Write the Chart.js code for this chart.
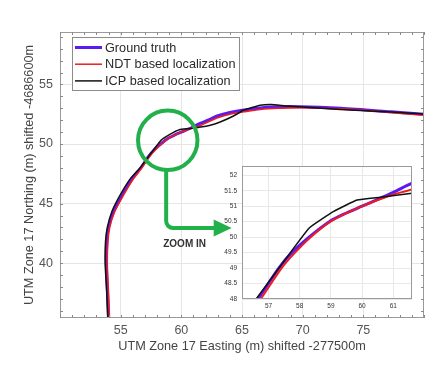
<!DOCTYPE html>
<html>
<head>
<meta charset="utf-8">
<script src="https://cdn.jsdelivr.net/npm/chart.js@4.4.1/dist/chart.umd.min.js"></script>
<style>
  html, body { margin: 0; padding: 0; background: #fff; }
  #wrap { position: relative; width: 445px; height: 365px; }
  #main { position: absolute; left: 0; top: 0; }
  #inset { position: absolute; left: 200px; top: 155px; }
</style>
</head>
<body>
<div id="wrap">
  <canvas id="main" width="445" height="365"></canvas>
  <canvas id="inset" width="220" height="160"></canvas>
</div>
<script>
// trajectories, metres (easting / northing after the shift)
const gtEast  = [54.02, 53.92, 53.82, 53.86, 54.0, 54.4, 55.1, 55.9, 56.66, 57.33, 57.75, 58.3, 58.95, 59.5, 60.0, 60.5, 61.0, 61.6, 62.2, 62.95, 64.0, 65.15, 67.36, 69.83, 73.14, 77.27, 80.5];
const gtNorth = [35.0, 37.5, 40.0, 41.8, 43.0, 44.3, 45.65, 47.05, 48.0, 49.0, 49.5, 50.0, 50.5, 50.78, 51.0, 51.22, 51.45, 51.75, 52.0, 52.35, 52.65, 52.85, 53.1, 53.13, 53.0, 52.7, 52.45];

const ndtEast  = [54.1, 54.0, 53.9, 53.95, 54.1, 54.5, 55.2, 56.0, 56.75, 57.42, 57.85, 58.35, 58.98, 59.5, 60.0, 60.5, 61.0, 61.6, 62.2, 63.0, 64.0, 65.15, 66.5, 68.0, 70.0, 73.14, 77.27, 80.5];
const ndtNorth = [35.0, 37.5, 40.0, 41.8, 43.0, 44.3, 45.65, 47.0, 48.0, 49.0, 49.5, 50.0, 50.5, 50.78, 51.0, 51.2, 51.38, 51.55, 51.85, 52.2, 52.5, 52.7, 52.9, 53.0, 53.05, 52.95, 52.65, 52.35];

const icpEast  = [53.95, 53.85, 53.72, 53.75, 53.9, 54.3, 55.0, 55.8, 56.6, 58.29, 59.09, 59.84, 60.59, 61.6, 62.3, 63.2, 64.3, 65.15, 66.5, 67.4, 68.6, 70.0, 73.1, 77.27, 80.5];
const icpNorth = [35.0, 37.5, 40.0, 41.8, 43.0, 44.4, 45.8, 47.1, 48.0, 50.28, 50.83, 51.2, 51.29, 51.42, 51.55, 51.85, 52.35, 52.85, 53.25, 53.32, 53.2, 53.1, 52.9, 52.68, 52.5];

const seriesNames = ['Ground truth', 'NDT based localization', 'ICP based localization'];
const seriesColors = ['#5b1af0', '#f01c1c', '#111111'];

const xTitle = 'UTM Zone 17 Easting (m) shifted -277500m';
const yTitle = 'UTM Zone 17 Northing (m) shifted -4686600m';

// zoom marker, in data units of the main axes
const lensCenter = [58.88, 50.31];
const lensRadius = 2.45;
const arrowX = 58.75, arrowBendY = 42.95, arrowTipX = 64.15;
const zoomLabel = 'ZOOM IN';
const zoomLabelAt = [60.27, 41.6];

const FONT = '"Liberation Sans", Arial, sans-serif';

function pts(xs, ys) {
    return xs.map((x, i) => ({ x: x, y: ys[i] }));
}

function makeDatasets(widths) {
    const cols = [[gtEast, gtNorth], [ndtEast, ndtNorth], [icpEast, icpNorth]];
    return cols.map((c, i) => ({
        label: seriesNames[i],
        data: pts(c[0], c[1]),
        showLine: true,
        borderColor: seriesColors[i],
        borderWidth: widths[i],
        pointRadius: 0,
        tension: i === 2 ? 0.12 : 0.3,
        order: 3 - i   // black on top, blue underneath
    }));
}

// no labels / grid lines on the box edges
function innerTicks(scale) {
    scale.ticks = scale.ticks.filter(t => t.value > scale.min + 1e-6 && t.value < scale.max - 1e-6);
}

// box, minor ticks, legend and the zoom marker
const mainDecor = {
    id: 'mainDecor',
    afterDatasetsDraw(chart) {
        const ctx = chart.ctx;
        const a = chart.chartArea;
        const xs = chart.scales.x, ys = chart.scales.y;

        ctx.save();
        ctx.strokeStyle = '#9a9a9a';
        ctx.lineWidth = 1;
        ctx.strokeRect(a.left + 0.5, a.top + 0.5, a.width - 1, a.height - 1);

        // minor ticks every metre
        ctx.strokeStyle = '#8a8a8a';
        ctx.beginPath();
        for (let v = Math.ceil(xs.min); v <= xs.max; v++) {
            const p = Math.round(xs.getPixelForValue(v)) + 0.5;
            ctx.moveTo(p, a.bottom); ctx.lineTo(p, a.bottom - 3);
            ctx.moveTo(p, a.top); ctx.lineTo(p, a.top + 3);
        }
        for (let v = Math.ceil(ys.min); v <= ys.max; v++) {
            const p = Math.round(ys.getPixelForValue(v)) + 0.5;
            ctx.moveTo(a.left, p); ctx.lineTo(a.left + 3, p);
            ctx.moveTo(a.right, p); ctx.lineTo(a.right - 3, p);
        }
        ctx.stroke();

        // zoom marker
        const cx = xs.getPixelForValue(lensCenter[0]);
        const cy = ys.getPixelForValue(lensCenter[1]);
        const r = xs.getPixelForValue(lensCenter[0] + lensRadius) - cx;
        const ax = xs.getPixelForValue(arrowX);
        const by = ys.getPixelForValue(arrowBendY);
        const tx = xs.getPixelForValue(arrowTipX);
        ctx.strokeStyle = '#22b04b';
        ctx.fillStyle = '#22b04b';
        ctx.lineWidth = 4;
        ctx.beginPath();
        ctx.arc(cx, cy, r, 0, Math.PI * 2);
        ctx.stroke();
        ctx.beginPath();
        ctx.moveTo(ax, cy + r);
        ctx.arcTo(ax, by, ax + 8, by, 7);
        ctx.lineTo(tx - 16, by);
        ctx.stroke();
        ctx.beginPath();
        ctx.moveTo(tx - 18, by - 8.5);
        ctx.lineTo(tx, by);
        ctx.lineTo(tx - 18, by + 8.5);
        ctx.closePath();
        ctx.fill();

        ctx.fillStyle = '#333';
        ctx.font = 'bold 10px ' + FONT;
        ctx.textAlign = 'center';
        ctx.textBaseline = 'middle';
        ctx.fillText(zoomLabel, xs.getPixelForValue(zoomLabelAt[0]), ys.getPixelForValue(zoomLabelAt[1]));

        // legend
        const lx = a.left + 12, ly = a.top + 5, lw = 168, lh = 54;
        ctx.fillStyle = '#fff';
        ctx.fillRect(lx, ly, lw, lh);
        ctx.strokeStyle = '#8c8c8c';
        ctx.lineWidth = 1;
        ctx.strokeRect(lx + 0.5, ly + 0.5, lw - 1, lh - 1);
        ctx.font = '12.7px ' + FONT;
        ctx.textAlign = 'left';
        chart.data.datasets.forEach((ds, i) => {
            const rowY = ly + 10.5 + i * 16.7;
            ctx.strokeStyle = ds.borderColor;
            ctx.lineWidth = ds.borderWidth;
            ctx.beginPath();
            ctx.moveTo(lx + 3, rowY);
            ctx.lineTo(lx + 30, rowY);
            ctx.stroke();
            ctx.fillStyle = '#2a2a2a';
            ctx.fillText(ds.label, lx + 33, rowY + 0.5);
        });
        ctx.restore();
    }
};

const tickFont = { family: FONT, size: 12.5 };
const titleFont = { family: FONT, size: 12.7 };

new Chart(document.getElementById('main'), {
    type: 'scatter',
    data: { datasets: makeDatasets([3, 1.5, 1.5]) },
    options: {
        responsive: false,
        animation: false,
        layout: { padding: { left: 0, right: 21, top: 32, bottom: 0 } },
        scales: {
            x: {
                min: 50, max: 80,
                afterBuildTicks: innerTicks,
                afterFit: s => { s.height = 47; },
                ticks: { stepSize: 5, padding: 5, color: '#555', font: tickFont },
                grid: { color: '#e6e6e6', drawTicks: false },
                border: { display: false },
                title: { display: true, text: xTitle, color: '#444', padding: { top: 0, bottom: 11 }, font: titleFont }
            },
            y: {
                min: 35.4, max: 59.4,
                afterBuildTicks: innerTicks,
                afterFit: s => { s.width = 60; },
                ticks: { stepSize: 5, padding: 7, color: '#555', font: tickFont },
                grid: { color: '#e6e6e6', drawTicks: false },
                border: { display: false },
                title: { display: true, text: yTitle, color: '#444', padding: { top: 22, bottom: 0 }, font: titleFont }
            }
        },
        plugins: { legend: { display: false }, tooltip: { enabled: false } }
    },
    plugins: [mainDecor]
});

const insetDecor = {
    id: 'insetDecor',
    beforeDraw(chart) {
        const a = chart.chartArea;
        chart.ctx.save();
        chart.ctx.fillStyle = '#fff';
        chart.ctx.fillRect(a.left, a.top, a.width, a.height);
        chart.ctx.restore();
    },
    afterDatasetsDraw(chart) {
        const a = chart.chartArea;
        const ctx = chart.ctx;
        ctx.save();
        ctx.strokeStyle = '#9a9a9a';
        ctx.lineWidth = 1;
        ctx.strokeRect(a.left + 0.5, a.top + 0.5, a.width - 1, a.height - 1);
        ctx.restore();
    }
};

const insetTickFont = { family: FONT, size: 6.5 };

new Chart(document.getElementById('inset'), {
    type: 'scatter',
    data: { datasets: makeDatasets([3, 2, 1.5]) },
    options: {
        responsive: false,
        animation: false,
        layout: { padding: { left: 0, right: 8, top: 11, bottom: 0 } },
        scales: {
            x: {
                min: 56.15, max: 61.6,
                afterFit: s => { s.height = 16; },
                ticks: { stepSize: 1, includeBounds: false, autoSkip: false, padding: 3, color: '#333', font: insetTickFont, callback: v => String(v) },
                grid: { color: '#e8e8e8', drawTicks: false },
                border: { display: false }
            },
            y: {
                min: 48, max: 52.3,
                afterFit: s => { s.width = 42; },
                ticks: { stepSize: 0.5, includeBounds: false, autoSkip: false, padding: 5, color: '#333', font: insetTickFont, callback: v => String(v) },
                grid: { color: '#e8e8e8', drawTicks: false },
                border: { display: false }
            }
        },
        plugins: { legend: { display: false }, tooltip: { enabled: false } }
    },
    plugins: [insetDecor]
});
</script>
</body>
</html>
